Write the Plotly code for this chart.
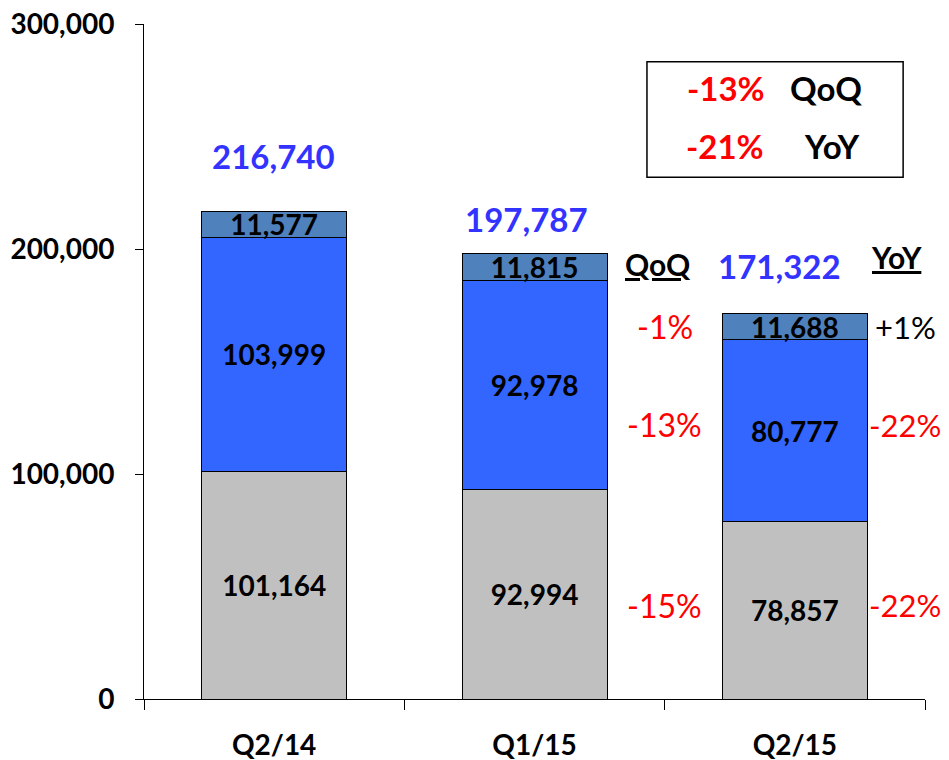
import plotly.graph_objects as go

# Данные по кварталам
quarters = ["Q2/14", "Q1/15", "Q2/15"]
base_vals = [101164, 92994, 78857]
mid_vals = [103999, 92978, 80777]
top_vals = [11577, 11815, 11688]
totals = [216740, 197787, 171322]

# Изменения для последнего квартала (снизу вверх по сегментам)
qoq_changes = ["-15%", "-13%", "-1%"]
yoy_changes = ["-22%", "-22%", "+1%"]
total_qoq = "-13%"
total_yoy = "-21%"

y_ticks = [0, 100000, 200000, 300000]

FONT = "Lato"
RED = "#FF0000"

fig = go.Figure()

segments = [
    (base_vals, "#C0C0C0"),
    (mid_vals, "#3366FF"),
    (top_vals, "#4F81BD"),
]
for vals, color in segments:
    fig.add_trace(go.Bar(
        x=quarters,
        y=vals,
        marker=dict(color=color, line=dict(color="black", width=1)),
        text=[f"{v:,}" for v in vals],
        textposition="inside",
        insidetextanchor="middle",
        constraintext="none",
        textangle=0,
        textfont=dict(family=FONT, size=28, color="black", weight="bold"),
        hoverinfo="skip",
    ))

# Итоги над столбцами
total_shift = [55, 35, 48]
total_xshift = [-1, -8, -15]
for q, t, ys, xs in zip(quarters, totals, total_shift, total_xshift):
    fig.add_annotation(
        x=q, y=t, text=f"<b>{t:,}</b>", showarrow=False,
        xanchor="center", yanchor="middle", yshift=ys, xshift=xs,
        font=dict(family=FONT, size=33, color="#3333FF"),
    )

# Подписи изменений рядом с последним столбцом
mids = []
acc = 0
for v in [base_vals[-1], mid_vals[-1], top_vals[-1]]:
    mids.append(acc + v / 2)
    acc += v

pct_shift = [5, 6, 0]
for m, qc, yc, ps in zip(mids, qoq_changes, yoy_changes, pct_shift):
    fig.add_annotation(
        x=1.5, y=m, text=qc, showarrow=False,
        xanchor="center", yanchor="middle", yshift=ps,
        font=dict(family=FONT, size=32, color=RED if qc.startswith("-") else "black"),
    )
    fig.add_annotation(
        x=2.425, y=m, text=yc, showarrow=False,
        xanchor="center", yanchor="middle", yshift=ps,
        font=dict(family=FONT, size=31, color=RED if yc.startswith("-") else "black"),
    )

# Заголовки колонок
fig.add_annotation(xref="paper", yref="paper", x=0.658, y=0.644,
                   xanchor="center", yanchor="middle",
                   text="<b><u>QoQ</u></b>", showarrow=False,
                   font=dict(family=FONT, size=30, color="black"))
fig.add_annotation(xref="paper", yref="paper", x=0.964, y=0.655,
                   xanchor="center", yanchor="middle",
                   text="<b><u>YoY</u></b>", showarrow=False,
                   font=dict(family=FONT, size=30, color="black"))

# Рамка с итоговыми изменениями
fig.add_shape(type="rect", xref="paper", yref="paper",
              x0=0.644, x1=0.972, y0=0.773, y1=0.944,
              line=dict(color="black", width=1.5), fillcolor="white")
box_items = [
    (0.745, 0.905, f"<b>{total_qoq}</b>", RED),
    (0.873, 0.905, "<b>QoQ</b>", "black"),
    (0.744, 0.819, f"<b>{total_yoy}</b>", RED),
    (0.881, 0.819, "<b>YoY</b>", "black"),
]
for bx, by, txt, col in box_items:
    fig.add_annotation(xref="paper", yref="paper", x=bx, y=by, text=txt,
                       xanchor="center", yanchor="middle",
                       showarrow=False, font=dict(family=FONT, size=33, color=col))

# Страница имеет отступ 8px, поэтому фигура чуть меньше окна
fig.update_layout(
    barmode="stack",
    bargap=0.443,
    width=941,
    height=752,
    margin=dict(l=136, r=24, t=16, b=61),
    plot_bgcolor="white",
    paper_bgcolor="white",
    showlegend=False,
    xaxis=dict(
        range=[-0.5, len(quarters) - 0.5],
        showline=True, linecolor="black", linewidth=1,
        ticks="outside", tickson="boundaries", ticklen=10, tickcolor="black",
        tickfont=dict(family=FONT, size=28, color="black", weight="bold"),
        ticklabelstandoff=21,
        showgrid=False, automargin=False,
    ),
    yaxis=dict(
        range=[0, 300000],
        tickvals=y_ticks,
        tickformat=",",
        showline=True, linecolor="black", linewidth=1,
        ticks="outside", ticklen=8, tickcolor="black",
        tickfont=dict(family=FONT, size=28, color="black", weight="bold"),
        ticklabelstandoff=15,
        ticklabeloverflow="allow",
        showgrid=False, zeroline=False, automargin=False,
    ),
)

fig.write_html("out.html")
